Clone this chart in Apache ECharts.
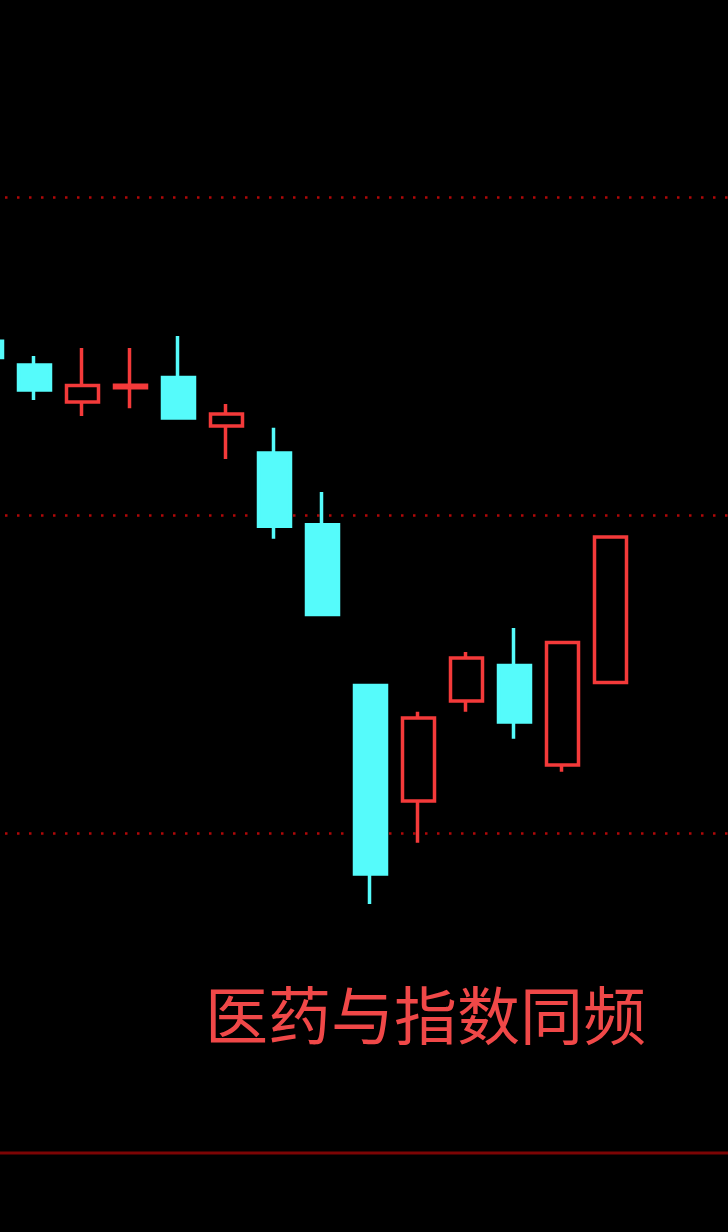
<!DOCTYPE html>
<html>
<head>
<meta charset="utf-8">
<script src="https://cdn.jsdelivr.net/npm/echarts@6/dist/echarts.min.js"></script>
<style>
html,body{margin:0;padding:0;background:#000;}
#chart{width:728px;height:1232px;}
</style>
</head>
<body>
<div id="chart"></div>
<script>
// categories (sessions); last two are empty slots on the right
const categories = ['1','2','3','4','5','6','7','8','9','10','11','12','13','14','15','16'];
const opens  = [3254.6, 3247.2, 3235.5, 3240.0, 3243.2, 3228.0, 3219.5, 3196.9, 3146.4, 3110.1, 3141.5, 3152.7, 3121.4, 3147.3];
const closes = [3249.5, 3239.3, 3240.7, 3240.8, 3230.5, 3231.8, 3196.5, 3168.7, 3087.1, 3136.2, 3155.0, 3134.9, 3159.9, 3193.1];
const lows   = [3248.1, 3236.2, 3231.1, 3233.6, 3230.5, 3217.6, 3192.5, 3168.7, 3077.7, 3096.9, 3138.1, 3129.6, 3119.3, 3147.3];
const highs  = [3256.6, 3250.0, 3252.5, 3252.5, 3256.3, 3234.9, 3227.4, 3207.2, 3146.4, 3138.1, 3156.9, 3164.5, 3159.9, 3193.1];
const yTicks = [3100, 3200, 3300];
const caption = '医药与指数同频';

const kData = categories.map((c, i) => i < opens.length ? [opens[i], closes[i], lows[i], highs[i]] : '-');

const chart = echarts.init(document.getElementById('chart'));
chart.setOption({
  backgroundColor: '#000',
  animation: false,
  grid: { left: -38, width: 768, top: 197, height: 636, outerBoundsMode: 'none', containLabel: false },
  xAxis: {
    type: 'category',
    data: categories,
    boundaryGap: true,
    axisLine: { show: false },
    axisTick: { show: false },
    axisLabel: { show: false },
    splitLine: { show: false }
  },
  yAxis: {
    type: 'value',
    min: yTicks[0],
    max: yTicks[yTicks.length - 1],
    interval: 100,
    axisLine: { show: false },
    axisTick: { show: false },
    axisLabel: { show: false },
    splitLine: {
      show: true,
      lineStyle: { color: '#b00808', width: 2.5, type: [2.5, 9.5], dashOffset: 5 }
    }
  },
  series: [{
    type: 'candlestick',
    data: kData,
    clip: false,
    barWidth: 32.5,
    itemStyle: {
      color: '#000',
      color0: '#55fbfb',
      borderColor: '#f43a3a',
      borderColor0: '#55fbfb',
      borderWidth: 3.5
    }
  }],
  graphic: [
    {
      type: 'line',
      shape: { x1: 0, y1: 1153, x2: 728, y2: 1153 },
      style: { stroke: '#7c0404', lineWidth: 3 },
      silent: true
    },
    {
      type: 'text',
      left: 205,
      top: 984,
      style: {
        text: caption,
        fill: '#f04848',
        font: '63px "Noto Sans CJK SC"'
      },
      silent: true
    }
  ]
});
</script>
</body>
</html>
